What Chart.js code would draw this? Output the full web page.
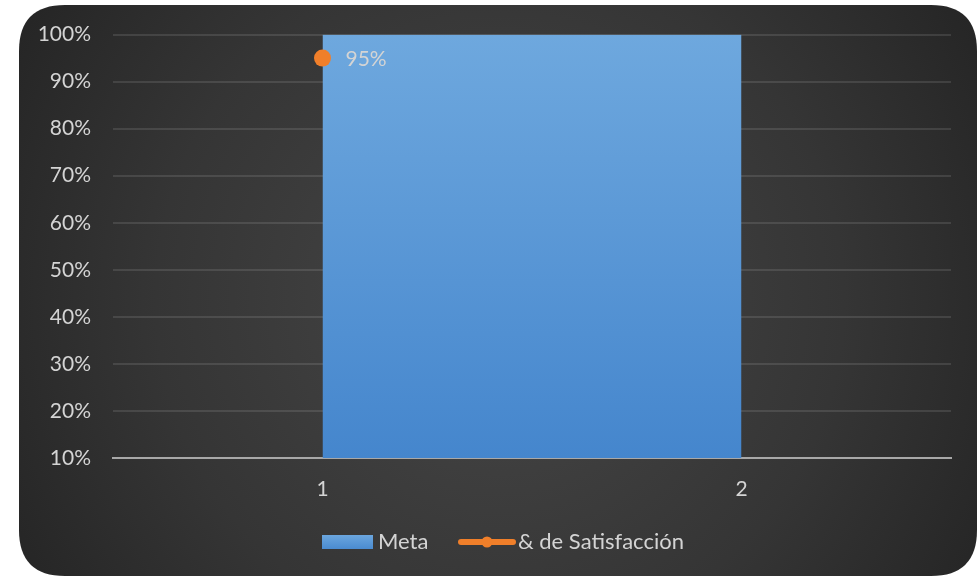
<!DOCTYPE html>
<html>
<head>
<meta charset="utf-8">
<script src="https://cdn.jsdelivr.net/npm/chart.js@4.4.1/dist/chart.umd.min.js"></script>
<style>
  html, body { margin: 0; padding: 0; background: #ffffff; }
  #wrap { width: 979px; height: 578px; }
</style>
</head>
<body>
<div id="wrap"><canvas id="c" width="979" height="578"></canvas></div>
<script>
const categories = ['1', '2'];
const metaValues = [1.0, 1.0];
const satisfaccionValues = [0.95, null];
const seriesNames = ['Meta', '& de Satisfacción'];
const yTickMin = 0.1;
const yTickMax = 1.0;
const yTickStep = 0.1;

const FONT = 'Lato, "Open Sans", sans-serif';
const TEXT = '#d4d4d4';

function pct(v) { return Math.round(v * 100) + '%'; }

const cardPlugin = {
  id: 'card',
  beforeDraw(chart) {
    const ctx = chart.ctx;
    const W = chart.width, H = chart.height;
    ctx.save();
    ctx.fillStyle = '#ffffff';
    ctx.fillRect(0, 0, W, H);
    const x = 19, y = 5, w = 958, h = 571, r = 46;
    ctx.beginPath();
    ctx.moveTo(x + r, y);
    ctx.lineTo(x + w - r, y);
    ctx.quadraticCurveTo(x + w, y, x + w, y + r);
    ctx.lineTo(x + w, y + h - r);
    ctx.quadraticCurveTo(x + w, y + h, x + w - r, y + h);
    ctx.lineTo(x + r, y + h);
    ctx.quadraticCurveTo(x, y + h, x, y + h - r);
    ctx.lineTo(x, y + r);
    ctx.quadraticCurveTo(x, y, x + r, y);
    ctx.closePath();
    const g = ctx.createRadialGradient(500, 300, 20, 500, 300, 560);
    g.addColorStop(0, '#464646');
    g.addColorStop(0.6, '#353535');
    g.addColorStop(1, '#252525');
    ctx.fillStyle = g;
    ctx.fill();
    ctx.restore();
  },
  afterDatasetsDraw(chart) {
    const ctx = chart.ctx;
    const meta = chart.getDatasetMeta(1);
    ctx.save();
    ctx.font = '21px ' + FONT;
    ctx.fillStyle = TEXT;
    ctx.textBaseline = 'middle';
    ctx.textAlign = 'left';
    meta.data.forEach((pt, i) => {
      const v = satisfaccionValues[i];
      if (v === null || v === undefined) return;
      ctx.fillText(pct(v), pt.x + 23, pt.y + 1);
    });
    ctx.restore();
  },
  afterDraw(chart) {
    const ctx = chart.ctx;
    const cy = 542;
    ctx.save();
    const bg = ctx.createLinearGradient(0, 535, 0, 549);
    bg.addColorStop(0, '#6ba6de');
    bg.addColorStop(1, '#4a8bd0');
    ctx.fillStyle = bg;
    ctx.fillRect(322, 535, 51, 14);
    ctx.font = '22px ' + FONT;
    ctx.fillStyle = TEXT;
    ctx.textBaseline = 'middle';
    ctx.textAlign = 'left';
    ctx.fillText(seriesNames[0], 378, cy);
    ctx.strokeStyle = '#f07f2a';
    ctx.lineWidth = 6;
    ctx.lineCap = 'round';
    ctx.beginPath();
    ctx.moveTo(461, cy);
    ctx.lineTo(513, cy);
    ctx.stroke();
    ctx.fillStyle = '#f07f2a';
    ctx.beginPath();
    ctx.arc(487, cy, 5.5, 0, Math.PI * 2);
    ctx.fill();
    ctx.fillStyle = TEXT;
    ctx.fillText(seriesNames[1], 518, cy);
    ctx.restore();
  }
};

const ctx = document.getElementById('c').getContext('2d');
new Chart(ctx, {
  type: 'line',
  data: {
    labels: categories,
    datasets: [
      {
        label: seriesNames[0],
        data: metaValues,
        fill: 'start',
        borderWidth: 0,
        borderColor: 'rgba(0,0,0,0)',
        pointRadius: 0,
        pointHoverRadius: 0,
        tension: 0,
        backgroundColor(c) {
          const a = c.chart.chartArea;
          if (!a) return '#5b9bd5';
          const g = c.chart.ctx.createLinearGradient(0, a.top, 0, a.bottom);
          g.addColorStop(0, '#6ea8de');
          g.addColorStop(1, '#4586cd');
          return g;
        },
        order: 2
      },
      {
        label: seriesNames[1],
        data: satisfaccionValues,
        borderColor: '#f07f2a',
        backgroundColor: '#f07f2a',
        borderWidth: 4,
        pointRadius: 8.5,
        pointHoverRadius: 8.5,
        pointBorderWidth: 0,
        fill: false,
        order: 1
      }
    ]
  },
  options: {
    responsive: false,
    animation: false,
    devicePixelRatio: 1,
    layout: { padding: { left: 0, right: 28, top: 34, bottom: 0 } },
    plugins: {
      legend: { display: false },
      tooltip: { enabled: false },
      title: { display: false }
    },
    scales: {
      x: {
        type: 'category',
        offset: true,
        grid: { display: false, drawTicks: false },
        border: { display: true, color: '#a8a8a8', width: 2 },
        ticks: { color: TEXT, font: { family: FONT, size: 21 }, padding: 19 },
        afterFit(s) { s.height = 120; }
      },
      y: {
        min: yTickMin,
        max: yTickMax,
        ticks: {
          stepSize: yTickStep,
          color: TEXT,
          font: { family: FONT, size: 21 },
          padding: 22,
          callback: (v) => pct(v)
        },
        grid: {
          drawTicks: false,
          lineWidth: 2,
          color: (c) => c.index === 0 ? '#a8a8a8' : 'rgba(255,255,255,0.11)'
        },
        border: { display: false },
        afterFit(s) { s.width = 113; }
      }
    }
  },
  plugins: [cardPlugin]
});
</script>
</body>
</html>
